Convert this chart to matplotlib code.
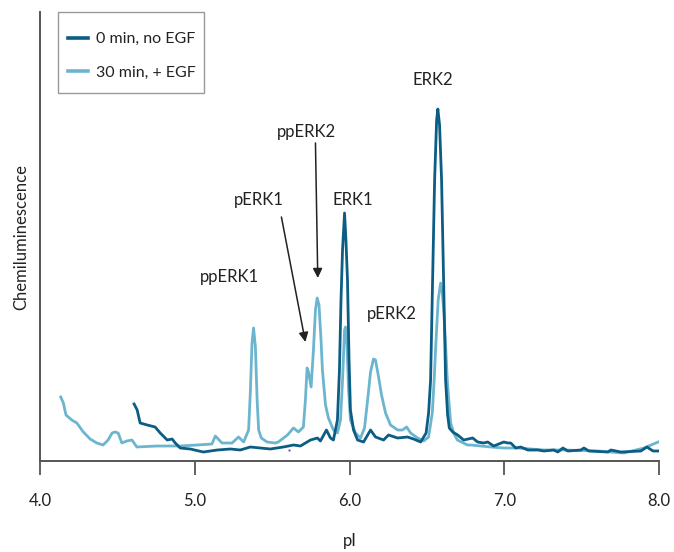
import matplotlib
matplotlib.use("Agg")
import matplotlib.pyplot as plt
from matplotlib.patches import Rectangle

plt.rcParams['font.family'] = ['Lato', 'DejaVu Sans']

# ---- data: 0 min, no EGF ----
dark_pi = [4.608, 4.628, 4.647, 4.693, 4.744, 4.777, 4.822, 4.854, 4.874, 4.906,
           4.971, 5.055, 5.146, 5.230, 5.294, 5.359, 5.424, 5.489, 5.573, 5.638,
           5.683, 5.748, 5.793, 5.812, 5.851, 5.877, 5.896, 5.922, 5.935, 5.945,
           5.955, 5.968, 5.977, 5.987, 5.997, 6.006, 6.026, 6.052, 6.091, 6.136,
           6.168, 6.220, 6.252, 6.311, 6.375, 6.414, 6.460, 6.495, 6.511, 6.524,
           6.537, 6.550, 6.563, 6.571, 6.582, 6.595, 6.608, 6.621, 6.634, 6.645,
           6.667, 6.699, 6.738, 6.796, 6.828, 6.867, 6.893, 6.932, 6.997, 7.023,
           7.042, 7.074, 7.107, 7.152, 7.217, 7.256, 7.320, 7.346, 7.379, 7.411,
           7.495, 7.515, 7.547, 7.670, 7.689, 7.754, 7.883, 7.922, 7.961, 8.000]
dark_val = [57, 51, 38, 36, 34, 28, 21, 22, 18, 13,
            12, 9, 11, 12, 11, 14, 13, 12, 14, 16,
            15, 21, 23, 20, 31, 23, 21, 41, 91, 161,
            211, 248, 221, 181, 101, 51, 31, 21, 19, 31,
            24, 21, 26, 23, 24, 22, 19, 28, 48, 81,
            181, 281, 341, 352, 336, 281, 181, 81, 46, 33,
            29, 26, 21, 23, 19, 18, 19, 15, 19, 18,
            18, 13, 14, 11, 11, 10, 11, 9, 13, 10,
            11, 13, 10, 9, 11, 9, 10, 14, 10, 10]

# ---- data: 30 min, + EGF ----
light_pi = [4.134, 4.151, 4.168, 4.205, 4.238, 4.280, 4.324, 4.367, 4.408, 4.440,
            4.466, 4.485, 4.505, 4.529, 4.561, 4.594, 4.626, 4.755, 4.906, 5.014,
            5.111, 5.133, 5.176, 5.241, 5.283, 5.316, 5.348, 5.359, 5.370, 5.380,
            5.392, 5.403, 5.413, 5.430, 5.467, 5.521, 5.540, 5.599, 5.638, 5.670,
            5.702, 5.715, 5.726, 5.735, 5.752, 5.767, 5.780, 5.791, 5.803, 5.816,
            5.825, 5.845, 5.864, 5.896, 5.922, 5.942, 5.955, 5.968, 5.974, 5.984,
            5.994, 6.006, 6.039, 6.071, 6.097, 6.117, 6.136, 6.155, 6.168, 6.188,
            6.207, 6.233, 6.265, 6.311, 6.343, 6.369, 6.395, 6.440, 6.479, 6.511,
            6.535, 6.547, 6.557, 6.573, 6.589, 6.599, 6.610, 6.621, 6.632, 6.644,
            6.654, 6.673, 6.697, 6.762, 6.783, 6.913, 6.997, 7.087, 7.256, 7.385,
            7.605, 7.773, 7.903, 7.995]
light_val = [64, 58, 46, 41, 38, 29, 22, 18, 16, 21,
             28, 29, 28, 18, 20, 21, 14, 15, 15, 16,
             17, 25, 18, 18, 24, 19, 31, 68, 118, 133,
             114, 61, 31, 23, 19, 18, 19, 26, 33, 29,
             34, 61, 93, 89, 74, 111, 151, 163, 156, 121,
             91, 56, 43, 31, 28, 41, 81, 131, 134, 116,
             71, 41, 28, 23, 33, 61, 89, 102, 101, 84,
             66, 48, 36, 31, 31, 34, 28, 23, 20, 24,
             48, 81, 114, 161, 178, 169, 148, 116, 81, 56,
             38, 28, 21, 16, 16, 14, 13, 13, 11, 11,
             10, 8, 13, 19]

dot_pi = [5.612]
dot_val = [11]

series_labels = ["0 min, no EGF", "30 min, + EGF"]
xtick_vals = [4.0, 5.0, 6.0, 7.0, 8.0]
xtick_labels = ["4.0", "5.0", "6.0", "7.0", "8.0"]

peak_names = ["ERK2", "ERK1", "pERK2", "ppERK2", "pERK1", "ppERK1"]
peak_text_pi = [6.540, 6.019, 6.272, 5.722, 5.411, 5.227]
peak_text_val = [381, 261, 147, 329, 261, 184]

arrow_from = [(5.780, 318), (5.560, 244)]
arrow_to = [(5.795, 183), (5.715, 119)]

dark_col = "#0b5d84"
light_col = "#6cb5ce"
text_col = "#222222"
spine_col = "#555555"

W, H = 674, 552
fig = plt.figure(figsize=(W / 100, H / 100), dpi=100)
ax = fig.add_axes([40 / W, 91 / H, 619 / W, 449 / H])

ax.plot(light_pi, light_val, color=light_col, lw=2.0, label=series_labels[1], zorder=2,
        solid_joinstyle='round')
ax.plot(dark_pi, dark_val, color=dark_col, lw=2.0, label=series_labels[0], zorder=3,
        solid_joinstyle='round')
ax.scatter(dot_pi, dot_val, s=3, color="#6a6ac0", zorder=4, linewidths=0)

ax.set_xlim(4.0, 8.0)
ax.set_ylim(0, 449)

for name, px, pv in zip(peak_names, peak_text_pi, peak_text_val):
    ax.text(px, pv, name, ha='center', va='center', fontsize=12, color=text_col)

for (x0, y0), (x1, y1) in zip(arrow_from, arrow_to):
    ax.annotate('', xy=(x1, y1), xytext=(x0, y0),
                arrowprops=dict(arrowstyle='-|>', color=text_col, lw=1.1,
                                mutation_scale=14, shrinkA=0, shrinkB=0))

ax.set_xticks(xtick_vals)
ax.set_xticklabels(xtick_labels)
ax.set_yticks([])
ax.tick_params(axis='x', direction='out', length=10, width=1.3, color=spine_col,
               labelsize=12, labelcolor=text_col, pad=13)
for s in ['top', 'right']:
    ax.spines[s].set_visible(False)
for s in ['left', 'bottom']:
    ax.spines[s].set_color(spine_col)
    ax.spines[s].set_linewidth(1.4)

ax.set_xlabel("pI", fontsize=12, color=text_col, labelpad=17)
ax.set_ylabel("Chemiluminescence", fontsize=12, color=text_col, labelpad=8)

# legend frame (drawn separately so its padding can match)
ax.add_patch(Rectangle((18 / 619, 1 - 81 / 449), 146 / 619, 81 / 449,
                       transform=ax.transAxes, facecolor='white',
                       edgecolor='#999999', lw=1.0, zorder=5, clip_on=False))

handles, labels = ax.get_legend_handles_labels()
order = [1, 0]
leg = ax.legend([handles[i] for i in order], [labels[i] for i in order],
                loc='upper left', bbox_to_anchor=(28 / 619, 1 - 20 / 449),
                borderaxespad=0, fontsize=11.5, frameon=False, handlelength=1.25,
                handletextpad=0.5, labelspacing=1.2, borderpad=0)
leg.set_zorder(6)
for t in leg.get_texts():
    t.set_color(text_col)
for h in leg.get_lines():
    h.set_linewidth(2.6)

fig.savefig("out.png", dpi=100)
